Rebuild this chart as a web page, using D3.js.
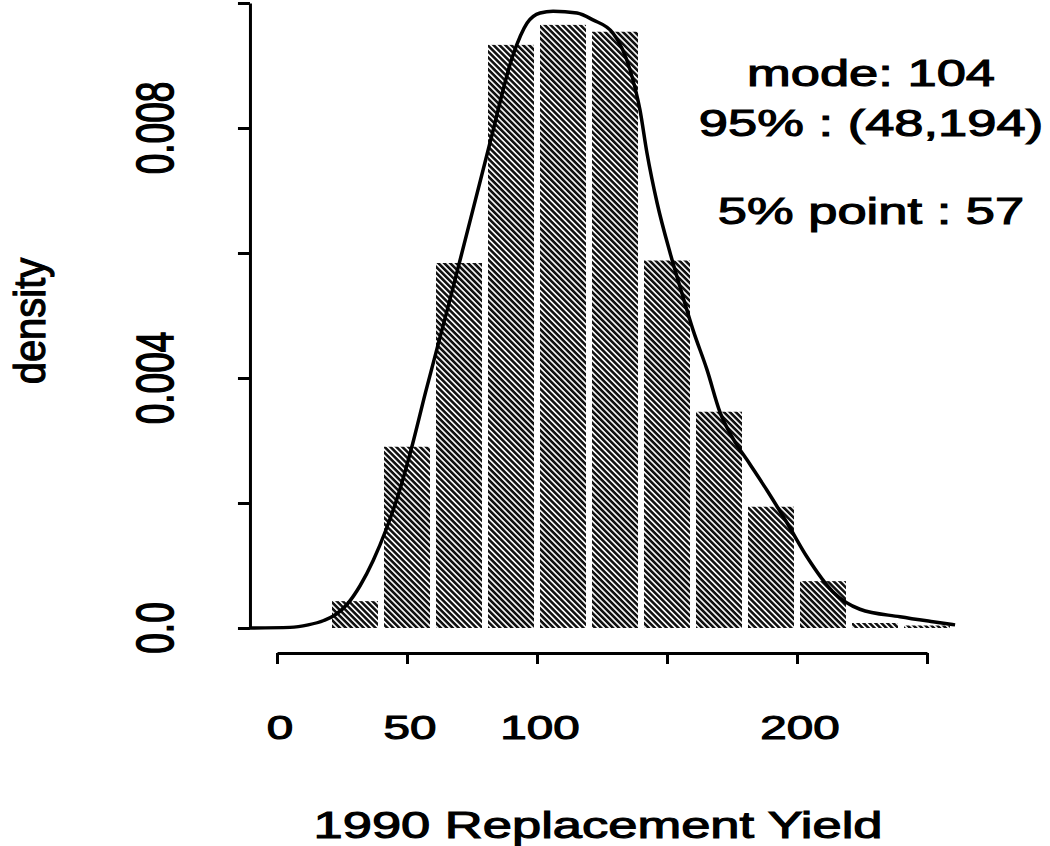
<!DOCTYPE html>
<html>
<head>
<meta charset="utf-8">
<script src="https://cdn.jsdelivr.net/npm/d3@7"></script>
<style>
  html, body { margin: 0; padding: 0; background: #fff; }
  svg { display: block; }
  .axis path, .axis line { stroke: #000; stroke-width: 3px; fill: none; }
  .lbl { font-family: "Liberation Sans", Arial, sans-serif; fill: #000; stroke: #000; stroke-width: 1.1px; }
</style>
</head>
<body>
<div id="chart"></div>
<script>
// histogram bins (left edge) and heights
const binStart = [20, 40, 60, 80, 100, 120, 140, 160, 180, 200, 220, 240];
const binDensity = [0.00043, 0.0029, 0.00584, 0.00933, 0.00965, 0.00954, 0.00588, 0.00346, 0.00194, 0.00075, 0.00008, 0.00004];
const binWidth = 20;

// smoothed density curve
const curveX = [-10.4, 5, 12, 18, 22, 27, 32, 37, 42, 47, 52, 57, 66.5, 81.9, 90.8, 96.2, 101.2, 106.2, 115.4, 121.5, 129.2, 135.8, 139.6, 142.3, 146.2, 151.2, 155, 160, 165.4, 170.4, 175.4, 181.9, 188.5, 196.2, 203.8, 213.8, 224.2, 239.6, 252.3, 260.8];
const curveY = [0, 0.00001, 0.00005, 0.00012, 0.0002, 0.00038, 0.00068, 0.00108, 0.00158, 0.00218, 0.00292, 0.00375, 0.00525, 0.00776, 0.00917, 0.00968, 0.00984, 0.00987, 0.00984, 0.00973, 0.00952, 0.00893, 0.00829, 0.0076, 0.0068, 0.006, 0.00546, 0.00477, 0.00413, 0.00345, 0.00303, 0.00262, 0.0022, 0.00168, 0.00114, 0.00058, 0.0003, 0.00018, 0.0001, 0.00005];

const xTicks = [0, 50, 100, 150, 200, 250];
const xTickLabels = ['0', '50', '100', '', '200', ''];
const yTicks = [0, 0.002, 0.004, 0.006, 0.008, 0.010];
const yTickLabels = ['0.0', '', '0.004', '', '0.008', ''];

const notes = ['mode: 104', '95% : (48,194)', '5% point : 57'];
const xTitle = '1990 Replacement Yield';
const yTitle = 'density';

const width = 1050, height = 846;
const STRETCH = 1.4; // scanned picture is wider than it is tall

const x = d3.scaleLinear().domain([0, 250]).range([277, 927]);
const y = d3.scaleLinear().domain([0, 0.010]).range([628, 3]);

const svg = d3.select('#chart').append('svg')
  .attr('width', width)
  .attr('height', height);

// hatch fill for the bars, stripes running down to the right
const pat = svg.append('defs').append('pattern')
  .attr('id', 'hatch')
  .attr('patternUnits', 'userSpaceOnUse')
  .attr('width', 4.2)
  .attr('height', 4.2)
  .attr('patternTransform', 'rotate(-45)');
pat.append('rect').attr('width', 4.2).attr('height', 4.2).attr('fill', '#fff');
pat.append('line')
  .attr('x1', 2.1).attr('y1', 0).attr('x2', 2.1).attr('y2', 4.2)
  .attr('stroke', '#111').attr('stroke-width', 2.6);

svg.append('g')
  .selectAll('rect')
  .data(binStart)
  .join('rect')
  .attr('x', (d) => x(d) + 3)
  .attr('width', (d) => x(d + binWidth) - x(d) - 6)
  .attr('y', (d, i) => y(binDensity[i]))
  .attr('height', (d, i) => y(0) - y(binDensity[i]))
  .attr('fill', 'url(#hatch)');

// density curve
const line = d3.line()
  .x((d) => x(d[0]))
  .y((d) => y(d[1]))
  .curve(d3.curveMonotoneX);

svg.append('path')
  .datum(curveX.map((v, i) => [v, curveY[i]]))
  .attr('d', line)
  .attr('fill', 'none')
  .attr('stroke', '#000')
  .attr('stroke-width', 3.5);

// y axis
const yAxis = svg.append('g')
  .attr('class', 'axis')
  .attr('transform', `translate(${x(-10.4)},0)`)
  .call(d3.axisLeft(y).tickValues(yTicks).tickSize(12).tickSizeOuter(0).tickFormat(''));
yAxis.selectAll('.tick text').remove();

svg.append('g')
  .selectAll('text')
  .data(yTicks)
  .join('text')
  .attr('class', 'lbl')
  .attr('text-anchor', 'middle')
  .attr('font-size', 37)
  .attr('transform', (d) => `translate(173,${y(d)}) scale(${STRETCH},1) rotate(-90)`)
  .text((d, i) => yTickLabels[i]);

svg.append('text')
  .attr('class', 'lbl')
  .attr('text-anchor', 'middle')
  .attr('font-size', 40)
  .attr('transform', 'translate(45,321) scale(1.1,1) rotate(-90)')
  .text(yTitle);

// x axis
const xAxis = svg.append('g')
  .attr('class', 'axis')
  .attr('transform', 'translate(0,653)')
  .call(d3.axisBottom(x).tickValues(xTicks).tickSize(11).tickSizeOuter(0).tickFormat(''));
xAxis.selectAll('.tick text').remove();

svg.append('g')
  .selectAll('text')
  .data(xTicks)
  .join('text')
  .attr('class', 'lbl')
  .attr('text-anchor', 'middle')
  .attr('font-size', 34)
  .attr('transform', (d) => `translate(${x(d) + 3},739) scale(${STRETCH},1)`)
  .text((d, i) => xTickLabels[i]);

svg.append('text')
  .attr('class', 'lbl')
  .attr('text-anchor', 'middle')
  .attr('font-size', 37.5)
  .attr('transform', `translate(598,838) scale(${STRETCH},1)`)
  .text(xTitle);

// summary text in the corner
const noteY = [86, 136, 224];
svg.append('g')
  .selectAll('text')
  .data(notes)
  .join('text')
  .attr('class', 'lbl')
  .attr('text-anchor', 'middle')
  .attr('font-size', 37.5)
  .attr('transform', (d, i) => `translate(871,${noteY[i]}) scale(${STRETCH},1)`)
  .text((d) => d);
</script>
</body>
</html>
